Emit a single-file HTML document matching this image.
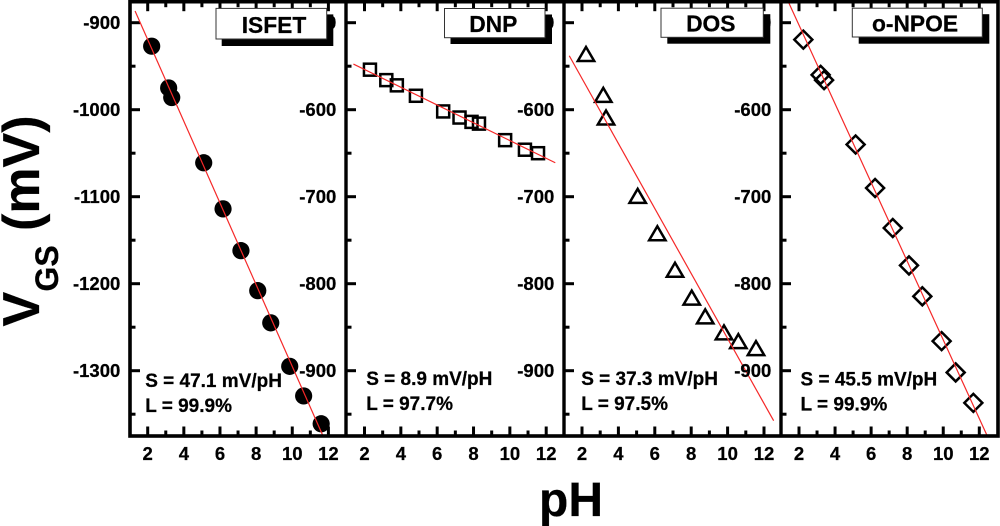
<!DOCTYPE html>
<html lang="en">
<head>
<meta charset="utf-8">
<title>VGS versus pH for four membranes</title>
<style>
html,body{margin:0;padding:0;background:#fff;width:1000px;height:526px;overflow:hidden}
svg{display:block;filter:blur(0.35px)}
text{font-family:"Liberation Sans",Arial,sans-serif;font-weight:bold;fill:#000;stroke:#000;stroke-width:0.25px}
</style>
</head>
<body>
<svg id="chart" width="1000" height="526" viewBox="0 0 1000 526" xmlns="http://www.w3.org/2000/svg">
  <g id="marks"></g>
  <g id="legends"></g>
  <text x="571" y="516" font-size="48" text-anchor="middle">pH</text>
  <text transform="translate(39,326.5) rotate(-90)" font-size="52">V</text>
  <text transform="translate(58,291.5) rotate(-90)" font-size="32">GS</text>
  <text transform="translate(39,231) rotate(-90)" font-size="52">(mV)</text>
</svg>
<script>
const xTicks = [2, 3, 4, 5, 6, 7, 8, 9, 10, 11, 12];
const isfetYTicks = [-900, -1000, -1100, -1200, -1300];
const membraneYTicks = [-500, -600, -700, -800, -900];

const isfetPH = [2.22, 3.16, 3.33, 5.1, 6.17, 7.16, 8.09, 8.81, 9.86, 10.63, 11.6];
const isfetV = [-927, -975, -986, -1061, -1114, -1162, -1208, -1245, -1295, -1329, -1361];
const isfetFitPH = [1.3, 11.68];
const isfetFitV = [-886.5, -1374];

const dnpPH = [2.3, 3.2, 3.78, 4.83, 6.33, 7.23, 7.89, 8.3, 9.74, 10.83, 11.55];
const dnpV = [-554, -566, -572, -584, -602, -609, -614, -616, -635, -646, -650];
const dnpFitPH = [1.39, 12.5];
const dnpFitV = [-547.5, -661];

const dosPH = [2.22, 3.17, 3.32, 5.06, 6.14, 7.11, 8.03, 8.77, 9.8, 10.59, 11.56];
const dosV = [-536, -583, -609, -699, -742, -784, -816, -837.5, -856, -866, -874];
const dosFitPH = [1.3, 12.53];
const dosFitV = [-538, -957.5];

const npoePH = [2.24, 3.2, 3.39, 5.14, 6.22, 7.2, 8.1, 8.84, 9.91, 10.69, 11.67];
const npoeV = [-519.5, -560, -566, -640, -690, -736, -779, -814.5, -866, -902, -937];
const npoeFitPH = [1.41, 12.43];
const npoeFitV = [-476, -974.5];

const SVGNS = 'http://www.w3.org/2000/svg';
const marks = document.getElementById('marks');
const legends = document.getElementById('legends');

function el(parent, tag, attrs, text) {
  const node = document.createElementNS(SVGNS, tag);
  for (const k in attrs) node.setAttribute(k, attrs[k]);
  if (text !== undefined) node.textContent = text;
  parent.appendChild(node);
  return node;
}

const FRAME_TOP = 1.7, FRAME_BOTTOM = 436;

function drawPanel(name, left, right, x2, xPerUnit, yTicks, px, py, fitX, fitY, shape, s, l, statsX, statsY1, statsY2) {
  const xOf = function (ph) { return x2 + (ph - 2) * xPerUnit; };
  const yOf = function (v) { return 22.7 + (yTicks[0] - v) * 0.87; };
  const g = el(marks, 'g', {});
  
  

  xTicks.forEach(function (t) {
    const major = t % 2 === 0;
    const len = major ? 9.5 : 5.5;
    const bottomTick = el(g, 'line', {x1: xOf(t), x2: xOf(t), y1: FRAME_BOTTOM, y2: FRAME_BOTTOM - len, stroke: '#000', 'stroke-width': 3});
    
    
    const topTick = el(g, 'line', {x1: xOf(t), x2: xOf(t), y1: FRAME_TOP, y2: FRAME_TOP + len, stroke: '#000', 'stroke-width': 3});
    
    
    if (major) {
      const lab = el(g, 'text', {x: xOf(t), y: 460, 'font-size': 18.5, 'text-anchor': 'middle'}, String(t));
      
      
    }
  });

  yTicks.forEach(function (t) {
    const tick = el(g, 'line', {x1: left, x2: left + 10, y1: yOf(t), y2: yOf(t), stroke: '#000', 'stroke-width': 3});
    
    
    const minor = el(g, 'line', {x1: left, x2: left + 5.5, y1: yOf(t - 50), y2: yOf(t - 50), stroke: '#000', 'stroke-width': 3});
    
    
    const lab = el(g, 'text', {x: left - 9.7, y: yOf(t) + 6.2, 'font-size': 18.5, 'text-anchor': 'end'}, String(t));
    
    
  });

  px.forEach(function (ph, i) {
    const cx = xOf(ph), cy = yOf(py[i]);
    let m;
    if (shape === 'circle') {
      m = el(g, 'circle', {cx: cx, cy: cy, r: 8.6, fill: '#000'});
    } else if (shape === 'square') {
      m = el(g, 'rect', {x: cx - 6, y: cy - 6, width: 12, height: 12, fill: 'none', stroke: '#000', 'stroke-width': 2.5});
    } else if (shape === 'triangle') {
      m = el(g, 'polygon', {points: (cx) + ',' + (cy - 7) + ' ' + (cx + 8.2) + ',' + (cy + 7) + ' ' + (cx - 8.2) + ',' + (cy + 7), fill: 'none', stroke: '#000', 'stroke-width': 2.5});
    } else {
      m = el(g, 'polygon', {points: (cx) + ',' + (cy - 9) + ' ' + (cx + 9) + ',' + (cy) + ' ' + (cx) + ',' + (cy + 9) + ' ' + (cx - 9) + ',' + (cy), fill: 'none', stroke: '#000', 'stroke-width': 2.5});
    }
    
    
  });

  const fit = el(g, 'line', {x1: xOf(fitX[0]), y1: yOf(fitY[0]), x2: xOf(fitX[1]), y2: yOf(fitY[1]), stroke: '#f52828', 'stroke-width': 1.2});
  
  

  const sText = el(g, 'text', {x: statsX, y: statsY1, 'font-size': 19}, s);
  
  
  const lText = el(g, 'text', {x: statsX, y: statsY2, 'font-size': 19}, l);
  
  
}

function drawLegend(name, label, x1, x2, y1, y2, sx2, sy2, sx1, textX, textY) {
  const g = el(legends, 'g', {});
  
  
  const shadow = el(g, 'rect', {x: sx1, y: y1 + 6, width: sx2 - sx1, height: sy2 - y1 - 6, fill: '#000'});
  
  
  const box = el(g, 'rect', {x: x1, y: y1, width: x2 - x1, height: y2 - y1, fill: '#fff', stroke: '#333', 'stroke-width': 1});
  
  
  const t = el(g, 'text', {x: textX, y: textY, 'font-size': 22.8, 'text-anchor': 'middle'}, label);
  
  
}

drawPanel('isfet', 130, 346, 147.7, 18.07, isfetYTicks, isfetPH, isfetV, isfetFitPH, isfetFitV, 'circle', 'S = 47.1 mV/pH', 'L = 99.9%', 145.2, 387, 412);
drawPanel('dnp', 346, 564, 364.5, 18.17, membraneYTicks, dnpPH, dnpV, dnpFitPH, dnpFitV, 'square', 'S = 8.9 mV/pH', 'L = 97.7%', 366.2, 385, 410);
drawPanel('dos', 564, 781, 582, 18.2, membraneYTicks, dosPH, dosV, dosFitPH, dosFitV, 'triangle', 'S = 37.3 mV/pH', 'L = 97.5%', 581.2, 385, 410);
drawPanel('o-npoe', 781, 998, 799, 18.03, membraneYTicks, npoePH, npoeV, npoeFitPH, npoeFitV, 'diamond', 'S = 45.5 mV/pH', 'L = 99.9%', 800.5, 385.5, 410.5);

const frame = el(marks, 'rect', {x: 130, y: FRAME_TOP, width: 868, height: FRAME_BOTTOM - FRAME_TOP, fill: 'none', stroke: '#000', 'stroke-width': 3.6});


const dividerA = el(marks, 'line', {x1: 346, x2: 346, y1: FRAME_TOP, y2: FRAME_BOTTOM, stroke: '#000', 'stroke-width': 3.4});


const dividerB = el(marks, 'line', {x1: 564, x2: 564, y1: FRAME_TOP, y2: FRAME_BOTTOM, stroke: '#000', 'stroke-width': 3.4});


const dividerC = el(marks, 'line', {x1: 781, x2: 781, y1: FRAME_TOP, y2: FRAME_BOTTOM, stroke: '#000', 'stroke-width': 3.4});



drawLegend('isfet', 'ISFET', 216, 326.7, 8.4, 39, 333.3, 46, 221.7, 274, 33);
drawLegend('dnp', 'DNP', 444.5, 545, 8.5, 37.7, 552, 44, 450.5, 493.3, 32);
drawLegend('dos', 'DOS', 661, 763.3, 8.2, 37.3, 770.3, 43.7, 667.3, 710.8, 31.7);
drawLegend('o-npoe', 'o-NPOE', 852.3, 982.3, 8.2, 37, 989.3, 43.7, 858.7, 915, 31.7);
</script>
</body>
</html>
